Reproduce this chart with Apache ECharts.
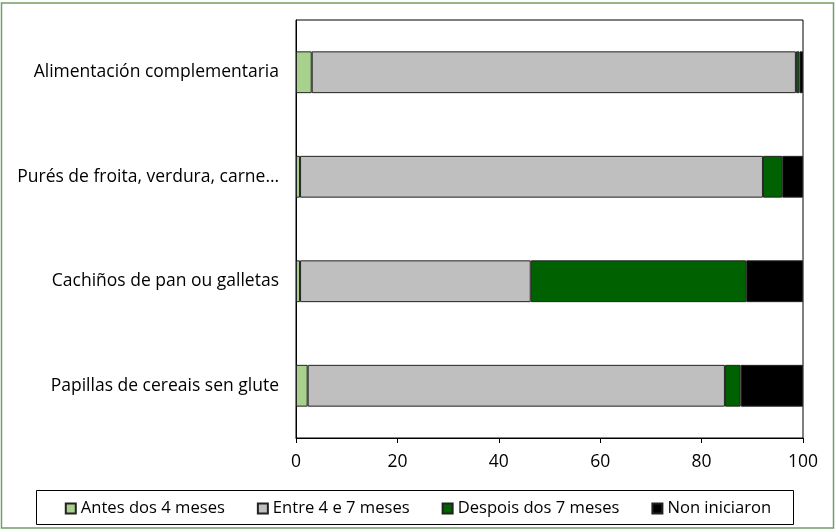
<!DOCTYPE html>
<html>
<head>
<meta charset="utf-8">
<script src="https://cdn.jsdelivr.net/npm/echarts@6/dist/echarts.min.js"></script>
<style>
  html, body { margin: 0; padding: 0; background: #fff; }
  #chart { width: 836px; height: 532px; }
</style>
</head>
<body>
<div id="chart"></div>
<script>
// categorias (de arriba a abaixo)
const categories = [
  'Alimentación complementaria',
  'Purés de froita, verdura, carne…',
  'Cachiños de pan ou galletas',
  'Papillas de cereais sen glute'
]
const seriesNames = ['Antes dos 4 meses', 'Entre 4 e 7 meses', 'Despois dos 7 meses', 'Non iniciaron']
const antes = [3.1, 0.8, 0.8, 2.3]
const entre = [95.5, 91.3, 45.5, 82.3]
const despois = [0.7, 3.8, 42.5, 3.1]
const non = [0.7, 4.1, 11.2, 12.3]
const xTicks = [0, 20, 40, 60, 80, 100]

const colors = ['#a9d18e', '#bfbfbf', '#006100', '#000000']
const font = "'Open Sans', sans-serif"

const chart = echarts.init(document.getElementById('chart'))
const values = [antes, entre, despois, non]

const option = {
  animation: false,
  textStyle: { fontFamily: font },
  grid: {
    left: 296, right: 33, top: 20, bottom: 94,
    show: true, borderColor: '#000', borderWidth: 1
  },
  legend: {
    bottom: 10,
    left: 'center',
    itemWidth: 10,
    itemHeight: 10,
    itemGap: 32,
    icon: 'rect',
    textStyle: { fontFamily: font, fontSize: 16.6, color: '#000' },
    data: seriesNames
  },
  xAxis: {
    type: 'value',
    min: xTicks[0],
    max: xTicks[xTicks.length - 1],
    interval: 20,
    axisLine: { show: true, lineStyle: { color: '#000' } },
    axisTick: { show: true, length: 5, lineStyle: { color: '#000' } },
    splitLine: { show: false },
    axisLabel: { fontFamily: font, fontSize: 17.5, color: '#000', margin: 15 }
  },
  yAxis: {
    type: 'category',
    inverse: true,
    data: categories,
    axisLine: { show: true, lineStyle: { color: '#000' } },
    axisTick: { show: false },
    axisLabel: { fontFamily: font, fontSize: 17.5, color: '#000', margin: 17 }
  },
  graphic: [
    {
      type: 'rect',
      shape: { x: 1.5, y: 3, width: 832, height: 525 },
      style: { fill: 'none', stroke: '#6f9f63', lineWidth: 1.5 },
      silent: true
    },
    {
      type: 'rect',
      shape: { x: 36.5, y: 490.5, width: 757, height: 34 },
      style: { fill: 'none', stroke: '#000', lineWidth: 1 },
      silent: true
    }
  ],
  series: seriesNames.map((name, i) => ({
    name: name,
    type: 'bar',
    stack: 'total',
    barCategoryGap: '60%',
    data: values[i],
    itemStyle: { color: colors[i], borderColor: '#222', borderWidth: 1 }
  }))
}

chart.setOption(option)
</script>
</body>
</html>
